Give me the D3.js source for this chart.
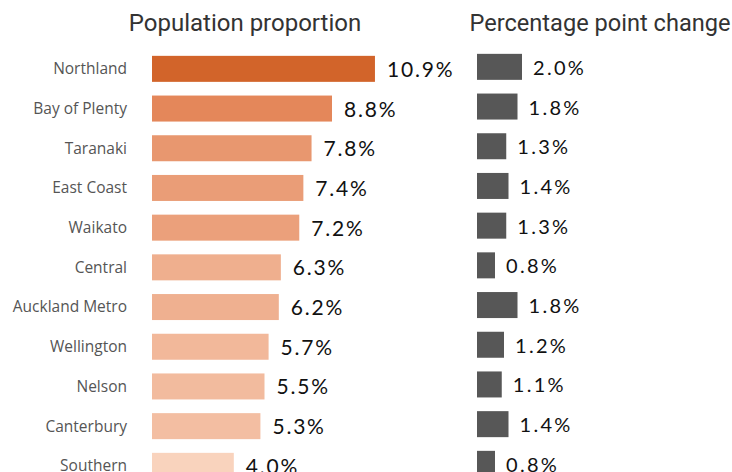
<!DOCTYPE html>
<html>
<head>
<meta charset="utf-8">
<script src="https://cdn.jsdelivr.net/npm/d3@7"></script>
<style>
  body { margin: 0; background: #fff; }
  svg { display: block; }
</style>
</head>
<body>
<svg width="732" height="472"></svg>
<script>
// regions, top to bottom
var regions = ["Northland", "Bay of Plenty", "Taranaki", "East Coast", "Waikato",
  "Central", "Auckland Metro", "Wellington", "Nelson", "Canterbury", "Southern"];
// population proportion (%)
var proportion = [10.9, 8.8, 7.8, 7.4, 7.2, 6.3, 6.2, 5.7, 5.5, 5.3, 4.0];
// percentage point change
var change = [2.0, 1.8, 1.3, 1.4, 1.3, 0.8, 1.8, 1.2, 1.1, 1.4, 0.8];

var titles = ["Population proportion", "Percentage point change"];

var svg = d3.select("svg");

var y = d3.scaleBand()
  .domain(regions)
  .range([49, 485.7])
  .paddingInner(0.345)
  .paddingOuter(0.1725);

var xLeft = d3.scaleLinear().domain([0, 11]).range([152, 377]);
var xRight = d3.scaleLinear().domain([0, 2]).range([477, 522]);

var color = d3.scaleLinear()
  .domain([4, 8.8, 10.9])
  .range(["#f9d3bd", "#e4875a", "#d2642a"]);

var fmt = function(v){ return v.toFixed(1) + "%"; };

// titles
svg.append("text")
  .attr("x", 245).attr("y", 31)
  .attr("text-anchor", "middle")
  .attr("font-family", "Roboto")
  .attr("font-size", 24)
  .attr("fill", "#333")
  .text(titles[0]);
svg.append("text")
  .attr("x", 600).attr("y", 31)
  .attr("text-anchor", "middle")
  .attr("font-family", "Roboto")
  .attr("font-size", 23.6)
  .attr("fill", "#333")
  .text(titles[1]);

// region labels
svg.selectAll(".lab")
  .data(regions)
  .enter().append("text")
  .attr("class", "lab")
  .attr("x", 127)
  .attr("y", function(d){ return y(d) + y.bandwidth() / 2; })
  .attr("dy", "0.35em")
  .attr("text-anchor", "end")
  .attr("font-family", "Open Sans")
  .attr("font-size", 15.5)
  .attr("fill", "#555")
  .text(function(d){ return d; });

// left bars
svg.selectAll(".pbar")
  .data(proportion)
  .enter().append("rect")
  .attr("class", "pbar")
  .attr("x", xLeft(0))
  .attr("y", function(d, i){ return y(regions[i]); })
  .attr("width", function(d){ return xLeft(d) - xLeft(0); })
  .attr("height", y.bandwidth())
  .attr("fill", function(d){ return color(d); });

svg.selectAll(".pval")
  .data(proportion)
  .enter().append("text")
  .attr("class", "pval")
  .attr("x", function(d){ return xLeft(d) + 12; })
  .attr("y", function(d, i){ return y(regions[i]) + y.bandwidth() / 2 + 8; })
  .attr("font-family", "Lato")
  .attr("font-size", 21)
  .attr("letter-spacing", 1.8)
  .attr("fill", "#111")
  .text(fmt);

// right bars
svg.selectAll(".cbar")
  .data(change)
  .enter().append("rect")
  .attr("class", "cbar")
  .attr("x", xRight(0))
  .attr("y", function(d, i){ return y(regions[i]) - 2; })
  .attr("width", function(d){ return xRight(d) - xRight(0); })
  .attr("height", y.bandwidth())
  .attr("fill", "#575757");

svg.selectAll(".cval")
  .data(change)
  .enter().append("text")
  .attr("class", "cval")
  .attr("x", function(d){ return xRight(d) + 11; })
  .attr("y", function(d, i){ return y(regions[i]) + y.bandwidth() / 2 + 6; })
  .attr("font-family", "Lato")
  .attr("font-size", 20)
  .attr("letter-spacing", 2.3)
  .attr("fill", "#111")
  .text(fmt);
</script>
</body>
</html>
